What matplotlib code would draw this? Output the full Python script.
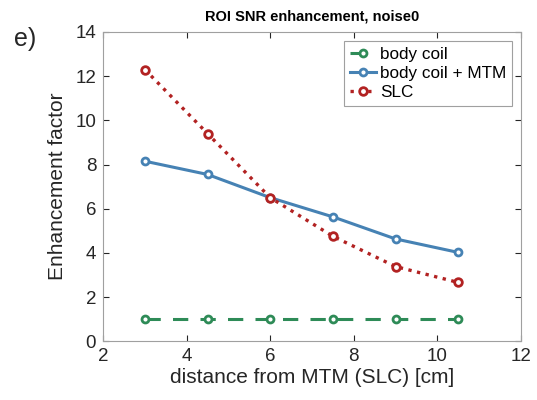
import numpy as np
import matplotlib
matplotlib.use('Agg')
import matplotlib.pyplot as plt

plt.rcParams['font.family'] = ['Liberation Sans', 'DejaVu Sans']

# distances (cm)
distance = [3, 4.5, 6, 7.5, 9, 10.5]
body_coil = [1.0, 1.0, 1.0, 1.0, 1.0, 1.0]
body_coil_mtm = [8.15, 7.55, 6.5, 5.63, 4.63, 4.02]
slc = [12.3, 9.4, 6.5, 4.75, 3.38, 2.66]

green = '#2e8b57'
blue = '#4682b4'
red = '#b22222'

fig = plt.figure(figsize=(5.37, 4.0), dpi=100)
ax = fig.add_axes([0.192, 0.147, 0.778, 0.773])

ax.plot(distance, body_coil, '--o', color=green, lw=2.2, ms=5, mew=2,
        mfc='white', dashes=(5, 4), label='body coil')
ax.plot(distance, body_coil_mtm, '-o', color=blue, lw=2.2, ms=5, mew=2,
        mfc='white', label='body coil + MTM')
ax.plot(distance, slc, ':o', color=red, lw=2.4, ms=5.5, mew=2,
        mfc='white', label='SLC')

ax.set_xlim(2, 12)
ax.set_ylim(0, 14)
ax.set_xticks([2, 4, 6, 8, 10, 12])
ax.set_yticks(np.arange(0, 15, 2))
ax.tick_params(direction='in', top=True, right=True, labelsize=13.5,
               colors='#262626', length=4, pad=5)
for s in ax.spines.values():
    s.set_color('#a0a0a0')
    s.set_linewidth(0.8)

ax.set_xlabel('distance from MTM (SLC) [cm]', fontsize=15, color='#262626', labelpad=2)
ax.set_ylabel('Enhancement factor', fontsize=15, color='#262626', labelpad=6)
ax.set_title('ROI SNR enhancement, noise0', fontsize=10.5, fontweight='bold', pad=8)
fig.text(0.027, 0.885, 'e)', fontsize=18, color='#262626')

leg = ax.legend(loc='upper right', fontsize=12.3, fancybox=False, framealpha=1,
                edgecolor='#a0a0a0', handlelength=1.5, handletextpad=0.25,
                borderaxespad=0.5, labelspacing=0.25, borderpad=0.35)
leg.get_frame().set_linewidth(0.8)

fig.savefig('out.png', dpi=100)
